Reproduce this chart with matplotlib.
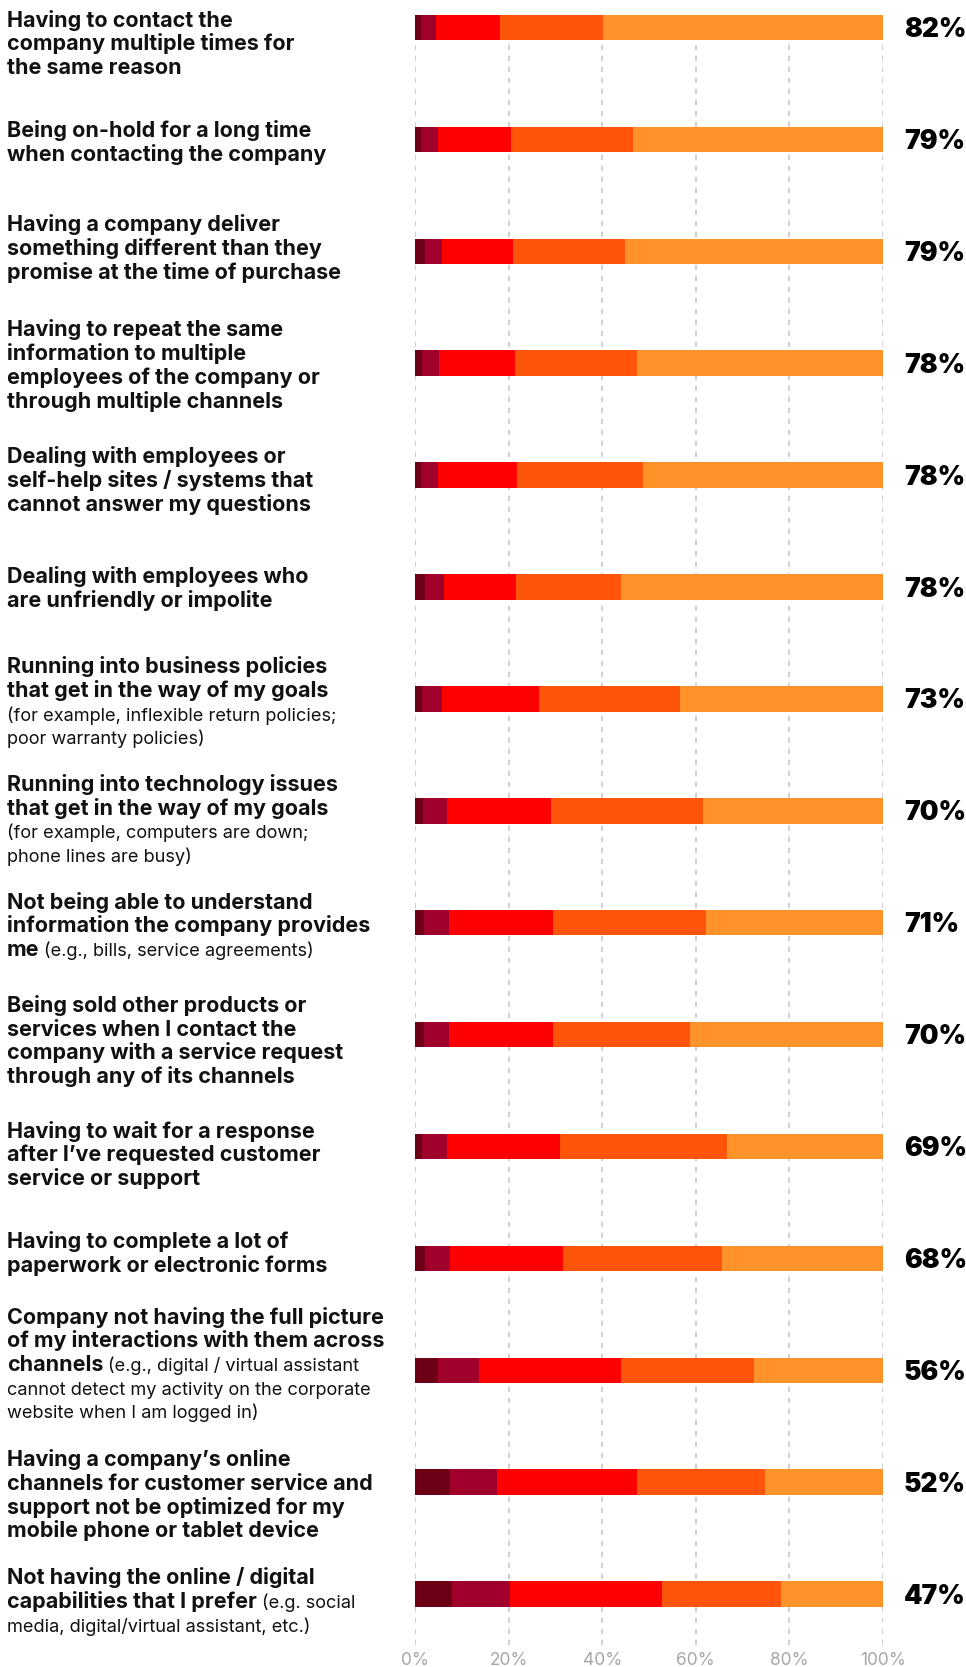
import matplotlib
matplotlib.use('Agg')
from matplotlib import pyplot as plt
from matplotlib import transforms as mtransforms
import numpy as np

# each label: lines split by \n, text after '|' on a line is regular weight
labels = [
    "Having to contact the\ncompany multiple times for\nthe same reason",
    "Being on-hold for a long time\nwhen contacting the company",
    "Having a company deliver\nsomething different than they\npromise at the time of purchase",
    "Having to repeat the same\ninformation to multiple\nemployees of the company or\nthrough multiple channels",
    "Dealing with employees or\nself-help sites / systems that\ncannot answer my questions",
    "Dealing with employees who\nare unfriendly or impolite",
    "Running into business policies\nthat get in the way of my goals\n|(for example, inflexible return policies;\n|poor warranty policies)",
    "Running into technology issues\nthat get in the way of my goals\n|(for example, computers are down;\n|phone lines are busy)",
    "Not being able to understand\ninformation the company provides\nme|(e.g., bills, service agreements)",
    "Being sold other products or\nservices when I contact the\ncompany with a service request\nthrough any of its channels",
    "Having to wait for a response\nafter I\u2019ve requested customer\nservice or support",
    "Having to complete a lot of\npaperwork or electronic forms",
    "Company not having the full picture\nof my interactions with them across\nchannels|(e.g., digital / virtual assistant\n|cannot detect my activity on the corporate\n|website when I am logged in)",
    "Having a company\u2019s online\nchannels for customer service and\nsupport not be optimized for my\nmobile phone or tablet device",
    "Not having the online / digital\ncapabilities that I prefer|(e.g. social\n|media, digital/virtual assistant, etc.)",
]

level1 = [1.3, 1.3, 2.1, 1.5, 1.3, 2.1, 1.5, 1.7, 1.9, 1.9, 1.5, 2.1, 4.9, 7.4, 7.9]
level2 = [3.2, 3.6, 3.6, 3.6, 3.6, 4.1, 4.3, 5.1, 5.3, 5.3, 5.3, 5.3, 8.8, 10.1, 12.4]
level3 = [13.7, 15.6, 15.2, 16.3, 16.9, 15.4, 20.7, 22.2, 22.2, 22.2, 24.2, 24.2, 30.4, 30.0, 32.4]
level4 = [22.0, 26.1, 23.9, 26.1, 27.0, 22.5, 30.2, 32.5, 32.7, 29.3, 35.7, 34.0, 28.4, 27.2, 25.6]
level5 = [59.8, 53.4, 55.2, 52.5, 51.2, 55.9, 43.3, 38.4, 37.8, 41.2, 33.3, 34.3, 27.5, 25.3, 21.7]
totals = [82, 79, 79, 78, 78, 78, 73, 70, 71, 70, 69, 68, 56, 52, 47]

xticks = [0, 20, 40, 60, 80, 100]
xticklabels = ['0%', '20%', '40%', '60%', '80%', '100%']

colors = ['#6d0017', '#a0002b', '#ff0000', '#ff550a', '#ff9229']

# small vertical nudges (px, down positive) of the label blocks
label_shift = [0, 2, -4, 1, 4, 0, 2, 8, 2, 5, 7, -6, -7, 12, 6]

W, H = 966, 1667
fig = plt.figure(figsize=(W / 100, H / 100), dpi=100)
ax = fig.add_axes([415 / W, 1 - 1645 / H, 468 / W, (1645 - 15) / H])

y = np.arange(len(labels))
left = np.zeros(len(labels))
for vals, c in zip([level1, level2, level3, level4, level5], colors):
    ax.barh(y, vals, left=left, height=0.228, color=c, zorder=3, linewidth=0)
    left += np.array(vals)

ax.set_xlim(0, 100)
ax.set_ylim(14.455, -0.112)
ax.set_xticks(xticks)
ax.set_xticklabels(xticklabels, family=['Inter', 'DejaVu Sans'])
ax.set_yticks([])
ax.grid(axis='x', color='#c4c4c4', linewidth=1.1, linestyle=(0, (3.4, 3.8)), zorder=0)
for s in ax.spines.values():
    s.set_visible(False)
ax.tick_params(axis='x', length=0, pad=5, labelsize=12.5, labelcolor='#a6a6a6')

fig.canvas.draw()
renderer = fig.canvas.get_renderer()
ident = mtransforms.IdentityTransform()

BOLD = 15.5
REG = 13.1
LS = 23.7  # line spacing in px
fam = ['Inter', 'DejaVu Sans']

for i, lab in enumerate(labels):
    yc = ax.transData.transform((0, i))[1]   # display px from bottom
    lines = lab.split('\n')
    n = len(lines)
    first = yc + (n - 1) / 2 * LS - label_shift[i]
    first = min(first, H - 19)
    for k, line in enumerate(lines):
        ymid = first - k * LS
        base = ymid - 0.36 * BOLD / 0.72
        bold, _, reg = line.partition('|')
        x = 7
        if bold:
            t = fig.text(x, base, bold, transform=ident, fontsize=BOLD, fontweight='bold',
                         family=fam, va='baseline', ha='left', color='#111111')
            x = t.get_window_extent(renderer).x1 + 5
        if reg:
            fig.text(x, base, reg, transform=ident, fontsize=REG, fontweight='normal',
                     family=fam, va='baseline', ha='left', color='#111111')

    PS = 19
    fig.text(904, yc - 0.36 * PS / 0.72, '%d%%' % totals[i], transform=ident, fontsize=PS,
             fontweight='black', family=fam, va='baseline', ha='left', color='#000000')

plt.savefig('out.png', dpi=100)
